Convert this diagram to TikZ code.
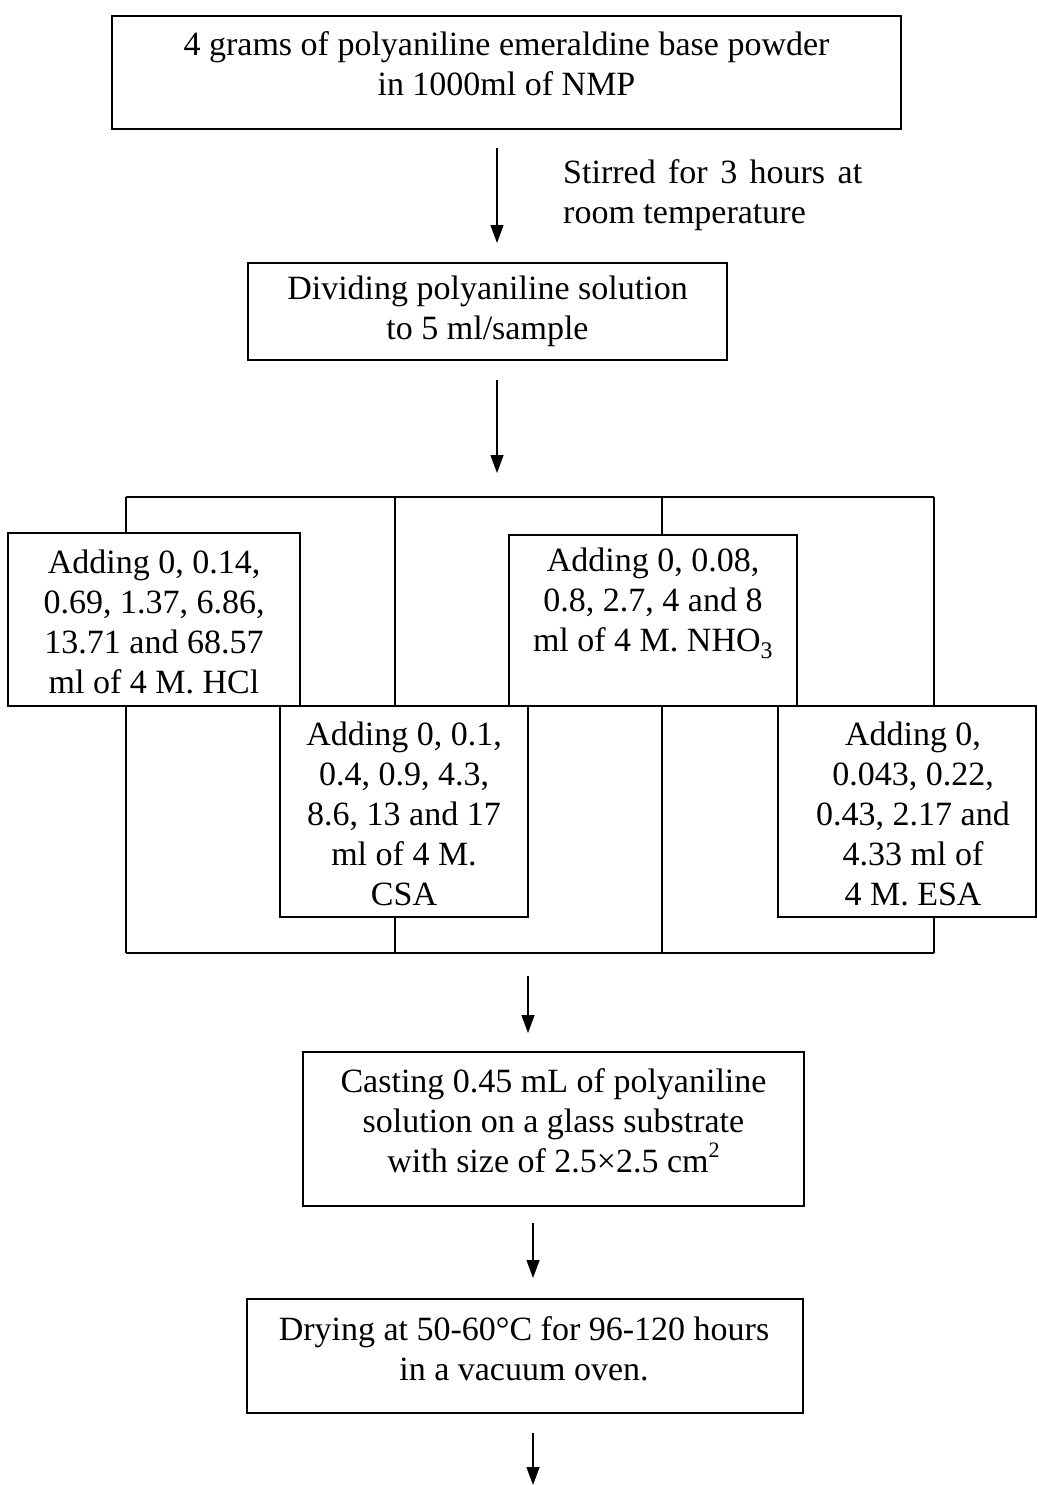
\documentclass[tikz,border=0pt]{standalone}
\usepackage{fontspec}
\setmainfont{Liberation Serif}
\usetikzlibrary{arrows.meta}
\begin{document}
\begin{tikzpicture}[x=1pt,y=-1pt,
  box/.style={draw, line width=1.6pt, fill=white, inner sep=0pt},
  txt/.style={align=center, inner sep=0pt, font=\fontsize{34}{40}\selectfont},
  frameline/.style={line width=1.3pt},
  flow/.style={line width=1.3pt, -{Triangle[length=18pt,width=13pt]}}]
\useasboundingbox (0,0) rectangle (1038,1485);

% branching frame
\coordinate (ft1) at (126,497);
\coordinate (ft2) at (395,497);
\coordinate (ft3) at (662,497);
\coordinate (ft4) at (934,497);
\coordinate (fb1) at (126,953);
\coordinate (fb2) at (395,953);
\coordinate (fb3) at (662,953);
\coordinate (fb4) at (934,953);
\draw[frameline] (ft1) -- (ft4);
\draw[frameline] (fb1) -- (fb4);
\draw[frameline] (ft1) -- (fb1);
\draw[frameline] (ft2) -- (fb2);
\draw[frameline] (ft3) -- (fb3);
\draw[frameline] (ft4) -- (fb4);

% boxes
\node[box, minimum width=789pt, minimum height=113pt] (b1) at (506.5,72.5) {};
\node[txt] (t1) at (506.5,63.5) {4 grams of polyaniline emeraldine base powder\\in 1000ml of NMP};

\node[txt, anchor=west, align=left] (stir) at (563,195.5) {\makebox[299pt][s]{Stirred for 3 hours at}\\room temperature};

\node[box, minimum width=479pt, minimum height=97pt] (b2) at (487.5,311.5) {};
\node[txt] (t2) at (487.5,311) {Dividing polyaniline solution\\to 5 ml/sample};

\node[box, minimum width=292pt, minimum height=173pt] (hcl) at (154,619.5) {};
\node[txt] (thcl) at (154,622) {Adding 0, 0.14,\\0.69, 1.37, 6.86,\\13.71 and 68.57\\ml of 4 M. HCl};

\node[box, minimum width=288pt, minimum height=171pt] (nho) at (653,620.5) {};
\node[txt] (tnho) at (653,603) {Adding 0, 0.08,\\0.8, 2.7, 4 and 8\\ml of 4 M. NHO\textsubscript{3}};

\node[box, minimum width=248pt, minimum height=211pt] (csa) at (404,811.5) {};
\node[txt] (tcsa) at (404,814) {Adding 0, 0.1,\\0.4, 0.9, 4.3,\\8.6, 13 and 17\\ml of 4 M.\\CSA};

\node[box, minimum width=258pt, minimum height=211pt] (esa) at (907,811.5) {};
\node[txt] (tesa) at (913,814) {Adding 0,\\0.043, 0.22,\\0.43, 2.17 and\\4.33 ml of\\4 M. ESA};

\node[box, minimum width=501pt, minimum height=154pt] (b3) at (553.5,1129) {};
\node[txt] (t3) at (553.5,1121) {Casting 0.45 mL of polyaniline\\solution on a glass substrate\\with size of 2.5×2.5 cm\raisebox{0.45em}{\fontsize{22}{22}\selectfont 2}};

\node[box, minimum width=556pt, minimum height=114pt] (b4) at (525,1356) {};
\node[txt] (t4) at (524,1349) {Drying at 50-60°C for 96-120 hours\\in a vacuum oven.};

% arrows
\coordinate (a1s) at (497,148);  \coordinate (a1e) at (497,243);
\coordinate (a2s) at (497,380);  \coordinate (a2e) at (497,473);
\coordinate (a3s) at (528,976);  \coordinate (a3e) at (528,1033);
\coordinate (a4s) at (533,1223); \coordinate (a4e) at (533,1278);
\coordinate (a5s) at (533,1433); \coordinate (a5e) at (533,1485);
\draw[flow] (a1s) -- (a1e);
\draw[flow] (a2s) -- (a2e);
\draw[flow] (a3s) -- (a3e);
\draw[flow] (a4s) -- (a4e);
\draw[flow] (a5s) -- (a5e);
\end{tikzpicture}
\end{document}
